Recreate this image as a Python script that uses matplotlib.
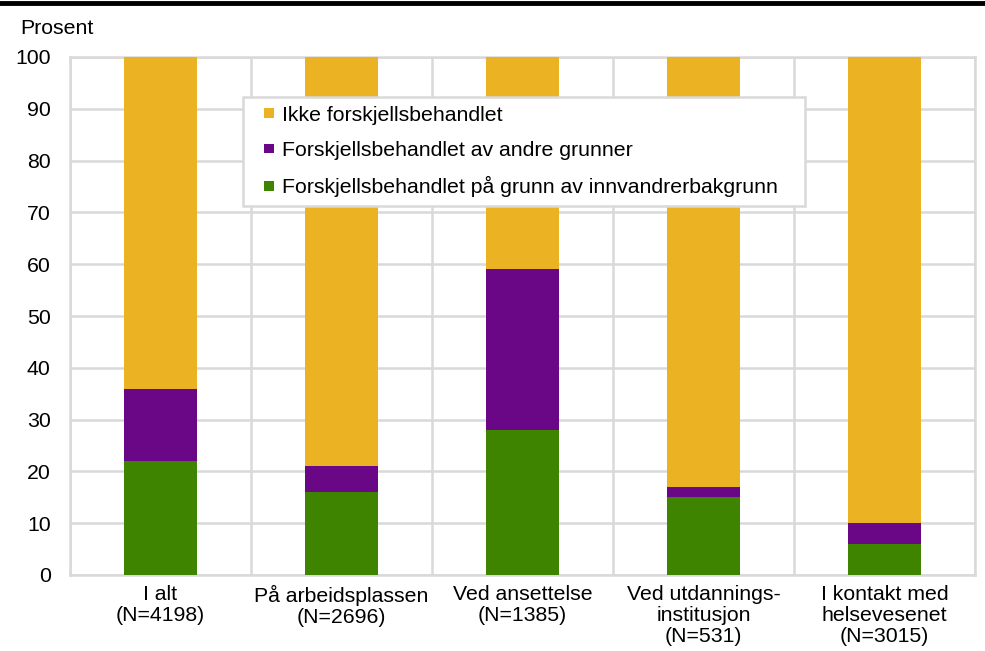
import numpy as np
import matplotlib.pyplot as plt
from matplotlib.lines import Line2D
from matplotlib.patches import Patch, Rectangle
from matplotlib.legend_handler import HandlerPatch

plt.rcParams['font.family'] = ['Liberation Sans', 'DejaVu Sans']

categories = ['I alt\n(N=4198)', 'På arbeidsplassen\n(N=2696)', 'Ved ansettelse\n(N=1385)',
              'Ved utdannings-\ninstitusjon\n(N=531)', 'I kontakt med\nhelsevesenet\n(N=3015)']
innvandrer = [22, 16, 28, 15, 6]
andre = [14, 5, 31, 2, 4]
ikke = [64, 79, 41, 83, 90]

series_names = ['Forskjellsbehandlet på grunn av innvandrerbakgrunn',
                'Forskjellsbehandlet av andre grunner',
                'Ikke forskjellsbehandlet']
colors = ['#3f8400', '#6a0787', '#ebb323']
fs = 15.3


class SquareHandler(HandlerPatch):
    # small square at the right end of the handle box
    def create_artists(self, legend, orig_handle, xdescent, ydescent, width, height, fontsize, trans):
        side = 0.46 * fontsize
        x0 = -xdescent + width - side
        y0 = -ydescent + (height - side) / 2
        r = Rectangle((x0, y0), side, side, facecolor=orig_handle.get_facecolor(),
                      edgecolor='none', transform=trans)
        return [r]


fig = plt.figure(figsize=(9.85, 6.51), dpi=100)
ax = fig.add_axes([70/985, 1 - 575/651, 905/985, 518/651])

x = np.arange(len(categories))
bottom = np.zeros(len(categories))
for vals, name, c in zip([innvandrer, andre, ikke], series_names, colors):
    ax.bar(x, vals, 0.4, bottom=bottom, color=c, label=name, zorder=3)
    bottom += np.array(vals)

ax.set_xlim(-0.5, len(categories) - 0.5)
ax.set_ylim(0, 100)
ax.set_yticks(range(0, 101, 10))
ax.set_xticks(x)
ax.set_xticklabels(categories, fontsize=fs, linespacing=1.13)
ax.tick_params(axis='y', labelsize=fs, length=0, pad=14)
ax.tick_params(axis='x', length=0, pad=7)
ax.set_xticks(np.arange(-0.5, len(categories), 1), minor=True)
ax.tick_params(axis='x', which='minor', length=0)
ax.grid(axis='y', which='major', color='#d9d9d9', linewidth=1.8, zorder=0)
ax.grid(axis='x', which='minor', color='#d9d9d9', linewidth=1.8, zorder=0)
ax.grid(axis='x', which='major', visible=False)
for s in ax.spines.values():
    s.set_color('#d9d9d9')
    s.set_linewidth(1.8)

fig.text(20/985, 1 - 28/651, 'Prosent', fontsize=fs, ha='left', va='center')

proxies = [Patch(facecolor=c) for c in colors]
leg = ax.legend(proxies[::-1], series_names[::-1], loc='upper left', mode='expand',
                bbox_to_anchor=(0.1912, 0.923, 0.621, 0.0), fontsize=fs, frameon=True, framealpha=1,
                fancybox=False, edgecolor='#d9d9d9', handlelength=1.05, handleheight=0.5,
                handletextpad=0.38, labelspacing=0.76, borderpad=0.42, borderaxespad=0,
                handler_map={Patch: SquareHandler()})
leg.get_frame().set_linewidth(1.8)
leg.set_zorder(5)

fig.add_artist(Line2D([0, 1], [1 - 3/651, 1 - 3/651], color='black', linewidth=3.5))

fig.savefig('out.png', dpi=100)
